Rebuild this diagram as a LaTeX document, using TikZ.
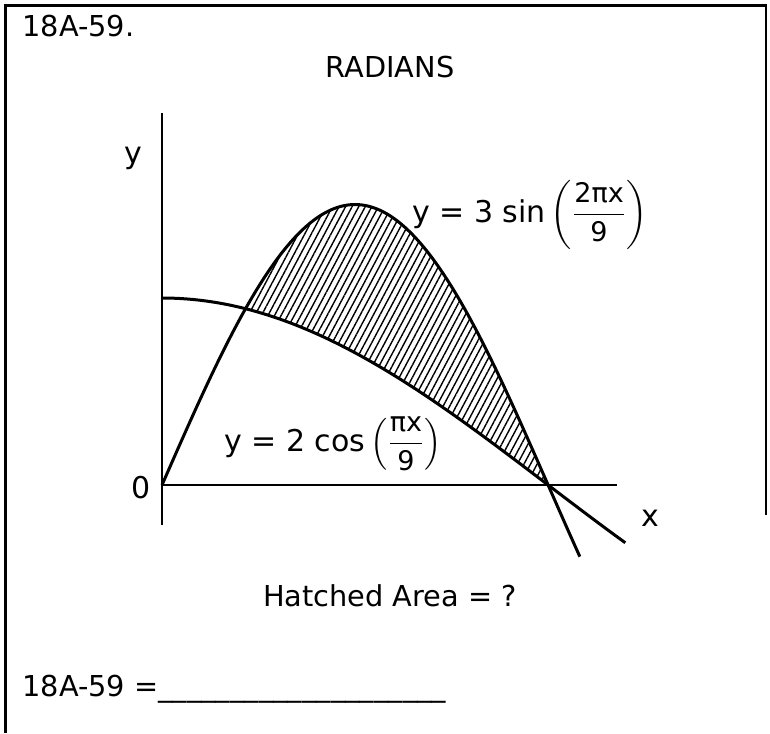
\documentclass[tikz,border=0pt]{standalone}
\usepackage{fontspec}
\setmainfont{DejaVu Sans}
\usepackage{amsmath}
\usetikzlibrary{patterns.meta}

\begin{document}
\begin{tikzpicture}[x=0.5pt, y=-0.5pt,
  txt/.style={font=\fontsize{14.4}{17}\selectfont, inner sep=0pt},
  lbl/.style={font=\fontsize{15}{18}\selectfont, inner sep=0pt},
  axis/.style={line width=1pt},
  curve/.style={line width=1.5pt, smooth, samples=80},
  hatch/.style={pattern={Lines[angle=62, distance=2.9pt, line width=0.7pt]}}
]
\useasboundingbox (0,0) rectangle (770,733);
% frame
\draw[line width=1.2pt] (5.5,733) -- (5.5,5.5) -- (766,5.5) -- (766,515);

\node[txt, anchor=base west] (prob) at (22,37) {18A-59.};
\node[txt, anchor=base] (units) at (390,77) {RADIANS};

% the graph, in its own units
\begin{scope}[shift={(162,485)}, x=42.9pt, y=46.75pt]
  \coordinate (o) at (0,0);
  \coordinate (ytop) at (0,3.98);
  \coordinate (ybot) at (0,-0.43);
  \coordinate (xend) at (5.3,0);
  \path[hatch] plot[smooth, samples=60, domain=0.9735:4.5] (\x,{3*sin(2*pi*\x/9 r)})
    -- plot[smooth, samples=60, domain=4.5:0.9735] (\x,{2*cos(pi*\x/9 r)}) -- cycle;
  \draw[axis] (ybot) -- (ytop);
  \draw[axis] (o) -- (xend);
  \draw[curve] plot[domain=0:4.87] (\x,{3*sin(2*pi*\x/9 r)});
  \draw[curve] plot[domain=0:5.4] (\x,{2*cos(pi*\x/9 r)});
\end{scope}

\node[lbl] (ylab) at (133,158) {y};
\node[lbl] (zero) at (141,488) {0};
\node[lbl] (xlab) at (650,518) {x};

\node[lbl, anchor=base west] (sinlab) at (412,222)
  {$\mbox{y = 3 sin}\left(\dfrac{\mbox{\fontsize{13.5}{16}\selectfont 2πx}}{\mbox{\fontsize{13.5}{16}\selectfont 9}}\right)$};
\node[lbl, anchor=base west] (coslab) at (224,451)
  {$\mbox{y = 2 cos}\left(\dfrac{\mbox{\fontsize{13.5}{16}\selectfont πx}}{\mbox{\fontsize{13.5}{16}\selectfont 9}}\right)$};

\node[txt, anchor=base] (ask) at (390,606) {Hatched Area = ?};
\node[txt, anchor=base west] (ans) at (22,696)
  {18A-59 =\_\_\_\_\_\_\_\_\_\_\_\_\_\_\_\_\_\_\_\_};
\end{tikzpicture}
\end{document}
